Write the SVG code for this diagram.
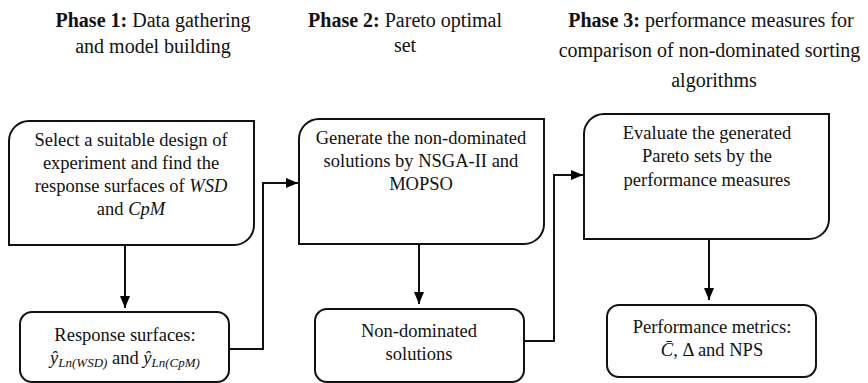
<svg xmlns="http://www.w3.org/2000/svg" width="868" height="383" viewBox="0 0 868 383">
<defs>
<marker id="ah" viewBox="0 0 12 10" refX="12" refY="5" markerWidth="12" markerHeight="10" markerUnits="userSpaceOnUse" orient="auto">
<path d="M0 0 L12 5 L0 10 Z" fill="#000"/>
</marker>
<style>
text{font-family:'Liberation Serif','Times New Roman',serif;font-size:18.5px;fill:#111;text-anchor:middle}
.h{font-size:20px}
.b{font-weight:bold}
.i{font-style:italic}
.box{fill:#fff;stroke:#111;stroke-width:2}
.con{fill:none;stroke:#111;stroke-width:2;marker-end:url(#ah)}
</style>
</defs>
<rect width="868" height="383" fill="#fff"/>
<g id="headers">
<text class="h" x="153" y="27"><tspan class="b">Phase 1:</tspan> Data gathering</text>
<text class="h" x="153" y="53">and model building</text>
<text class="h" x="405" y="27"><tspan class="b">Phase 2:</tspan> Pareto optimal</text>
<text class="h" x="405" y="52">set</text>
<text class="h" x="711" y="27"><tspan class="b">Phase 3:</tspan> performance measures for</text>
<text class="h" x="709.5" y="57">comparison of non-dominated sorting</text>
<text class="h" x="714" y="87">algorithms</text>
</g>
<g id="connectors">
<path class="con" d="M125 245 V308"/>
<path class="con" d="M229 349 H263 V183 H298"/>
<path class="con" d="M419 244 V304"/>
<path class="con" d="M524 341 H554 V175 H583"/>
<path class="con" d="M709 239 V300"/>
</g>
<g id="n1">
<path class="box" d="M29 121 H254 V225 A20 20 0 0 1 234 245 H9 V141 A20 20 0 0 1 29 121 Z"/>
<text x="131" y="146">Select a suitable design of</text>
<text x="131" y="169">experiment and find the</text>
<text x="131" y="192">response surfaces of <tspan class="i">WSD</tspan></text>
<text x="131" y="215">and <tspan class="i">CpM</tspan></text>
</g>
<g id="n2">
<rect class="box" x="20" y="312" width="209" height="70" rx="12"/>
<text x="125" y="341">Response surfaces:</text>
<text x="125" y="364"><tspan class="i">ŷ</tspan><tspan class="i" font-size="13" dy="3">Ln(WSD)</tspan><tspan dy="-3"> and </tspan><tspan class="i">ŷ</tspan><tspan class="i" font-size="13" dy="3">Ln(CpM)</tspan></text>
</g>
<g id="n3">
<path class="box" d="M319 119 H544 V224 A20 20 0 0 1 524 244 H299 V139 A20 20 0 0 1 319 119 Z"/>
<text x="421" y="144">Generate the non-dominated</text>
<text x="421" y="167">solutions by NSGA-II and</text>
<text x="421" y="190">MOPSO</text>
</g>
<g id="n4">
<rect class="box" x="315" y="309" width="209" height="73" rx="12"/>
<text x="419" y="337">Non-dominated</text>
<text x="419" y="360">solutions</text>
</g>
<g id="n5">
<path class="box" d="M604 114 H829 V219 A20 20 0 0 1 809 239 H584 V134 A20 20 0 0 1 604 114 Z"/>
<text x="707" y="139">Evaluate the generated</text>
<text x="707" y="162">Pareto sets by the</text>
<text x="707" y="186">performance measures</text>
</g>
<g id="n6">
<rect class="box" x="607" y="305" width="209" height="72" rx="12"/>
<text x="712" y="333">Performance metrics:</text>
<text x="712" y="356"><tspan class="i">C̄</tspan>, Δ and NPS</text>
</g>
</svg>
